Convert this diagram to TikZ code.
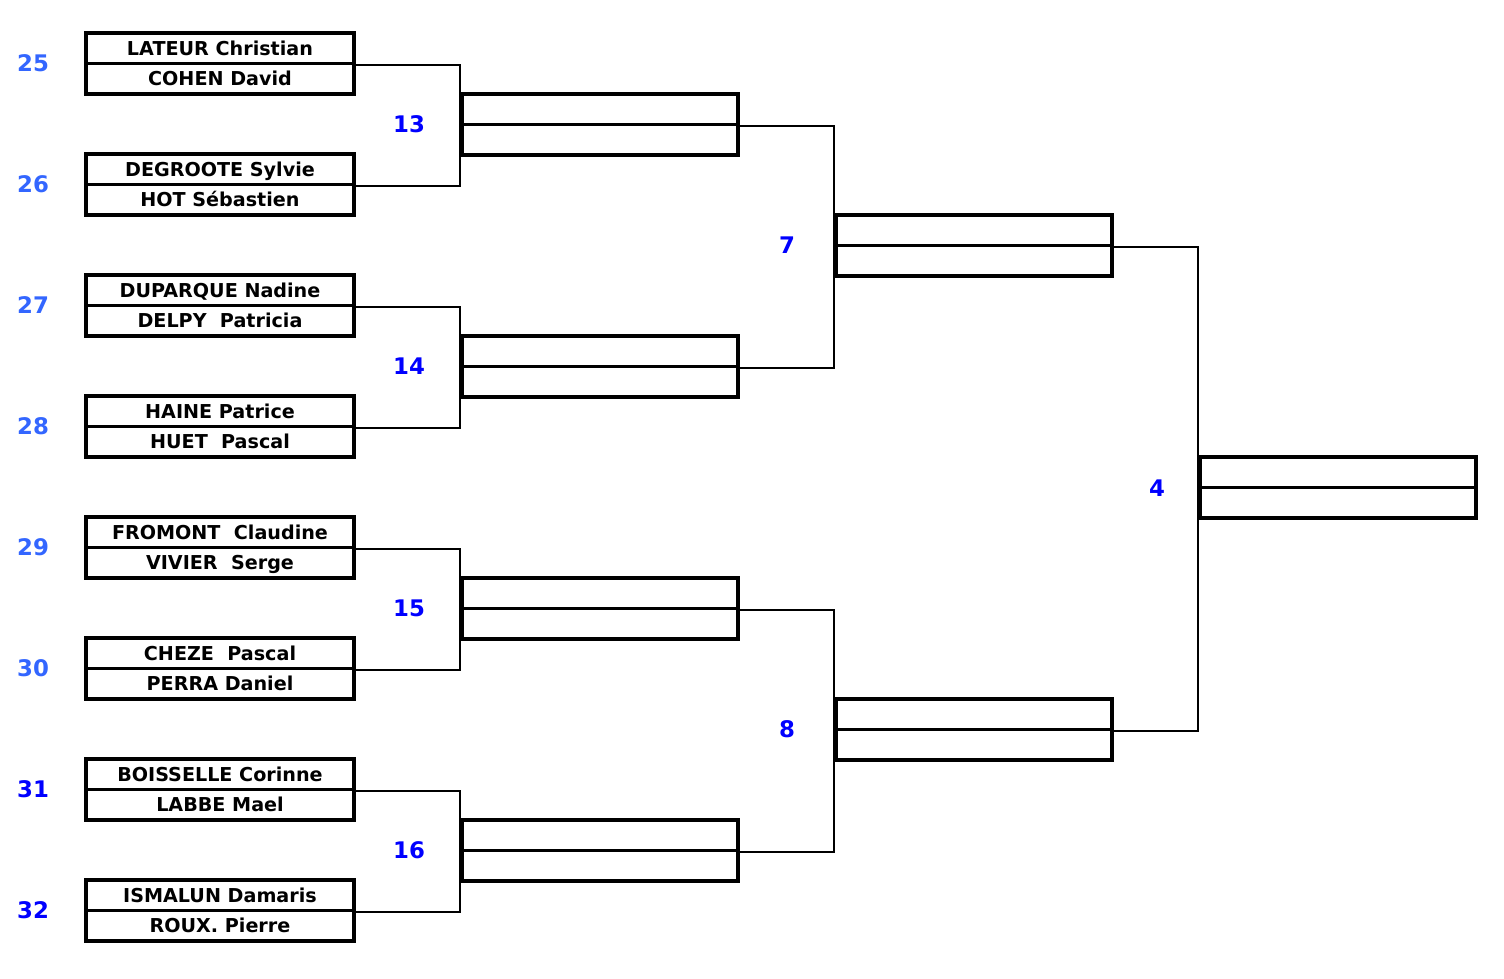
\documentclass[tikz,border=0pt]{standalone}
\usepackage{fontspec}
\setmainfont{DejaVu Sans}
\usepackage{xcolor}
\usetikzlibrary{positioning}
\definecolor{seedblue}{RGB}{51,102,255}
\definecolor{pureblue}{RGB}{0,0,255}

\begin{document}
\begin{tikzpicture}[
  x=0.02cm, y=-0.02cm,
  slot/.style={draw, line width=1.9pt, minimum height=0.61cm, inner sep=0pt,
    text height=9pt, text depth=1pt,
    font=\bfseries\fontsize{10.9}{12}\selectfont},
  entry/.style={slot, minimum width=5.36cm},
  later/.style={slot, minimum width=5.52cm},
  link/.style={line width=1pt},
  seed/.style={font=\bfseries\fontsize{13}{15}\selectfont},
]
\useasboundingbox (0,0) rectangle (1504,978);

% --- Round 1: the eight pairs ---
\foreach \i/\n/\playerA/\playerB/\col in {
  0/25/LATEUR Christian/COHEN David/seedblue,
  1/26/DEGROOTE Sylvie/HOT Sébastien/seedblue,
  2/27/DUPARQUE Nadine/DELPY~ Patricia/seedblue,
  3/28/HAINE Patrice/HUET~ Pascal/seedblue,
  4/29/FROMONT~ Claudine/VIVIER~ Serge/seedblue,
  5/30/CHEZE~ Pascal/PERRA Daniel/seedblue,
  6/31/BOISSELLE Corinne/LABBE Mael/pureblue,
  7/32/ISMALUN Damaris/ROUX. Pierre/pureblue} {
  \node[entry] (t\n) at (220, 48.25+121*\i) {\playerA};
  \node[entry] (b\n) at (220, 78.75+121*\i) {\playerB};
  \node[seed, text=\col] (lab\n) at (33, 63.5+121*\i) {\n};
}

% --- Round 2 ---
\foreach \j/\n in {0/13, 1/14, 2/15, 3/16} {
  \node[later] (t\n) at (600, 109.25+242*\j) {};
  \node[later] (b\n) at (600, 139.75+242*\j) {};
  \node[seed, text=pureblue] (lab\n) at (409, 124.5+242*\j) {\n};
}

% --- Round 3 ---
\foreach \k/\n in {0/7, 1/8} {
  \node[later] (t\n) at (974, 230.25+484*\k) {};
  \node[later] (b\n) at (974, 260.75+484*\k) {};
  \node[seed, text=pureblue] (lab\n) at (787, 245.5+484*\k) {\n};
}

% --- Final ---
\node[later] (t4) at (1338, 472.25) {};
\node[later] (b4) at (1338, 502.75) {};
\node[seed, text=pureblue] (lab4) at (1157, 488) {4};

% Brackets between rounds
\foreach \a/\b/\w in {25/26/13, 27/28/14, 29/30/15, 31/32/16, 13/14/7, 15/16/8, 7/8/4} {
  \draw[link] (t\a.south east) -| (t\w.south west) |- (t\b.south east);
}

\end{tikzpicture}
\end{document}
